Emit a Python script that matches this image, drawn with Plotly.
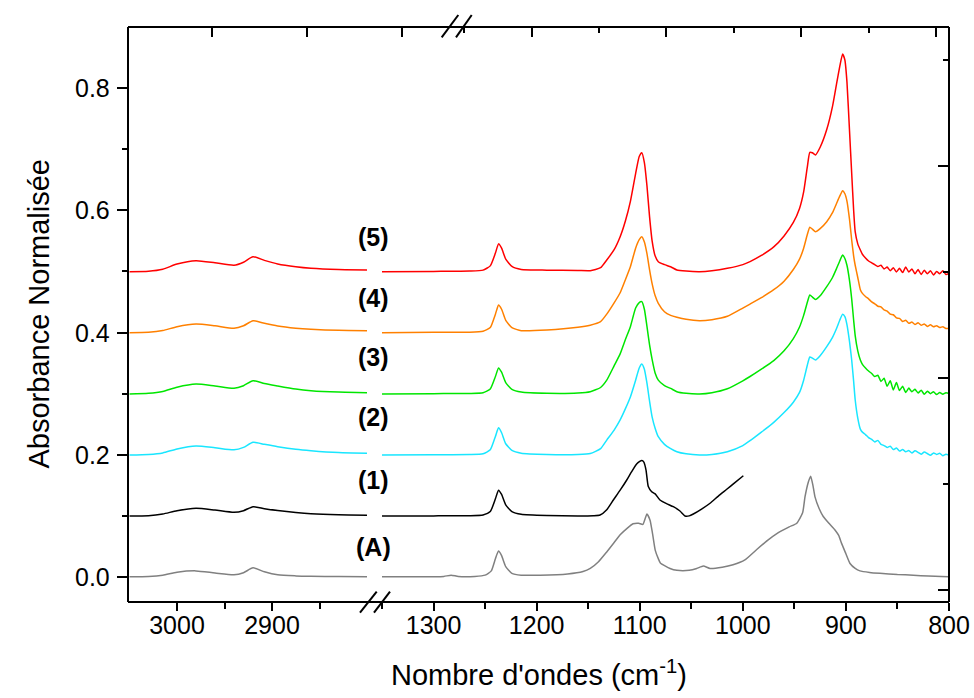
import plotly.graph_objects as go

# ---------------- data ----------------
series_names = ["(A)", "(1)", "(2)", "(3)", "(4)", "(5)"]
series_colors = ["#808080", "#000000", "#19e6ff", "#00e600", "#ff8000", "#ff0000"]

# high wavenumber window (C-H region)
left_wn = [3050, 3030, 3015, 3000, 2980, 2960, 2940, 2930, 2920, 2908, 2894, 2875, 2859, 2830, 2800]
left_A = [0.0005, 0.001, 0.003, 0.0078, 0.0100, 0.0065, 0.0035, 0.0070, 0.0150, 0.0085, 0.0035, 0.0018, 0.0012, 0.0008, 0.0005]
left_1 = [0.0998, 0.1002, 0.1030, 0.1085, 0.1125, 0.1095, 0.1058, 0.1085, 0.1150, 0.1118, 0.1088, 0.1055, 0.1035, 0.1018, 0.1012]
left_2 = [0.1996, 0.2005, 0.2030, 0.2095, 0.2144, 0.2115, 0.2080, 0.2120, 0.2204, 0.2170, 0.2132, 0.2090, 0.2066, 0.2035, 0.2024]
left_3 = [0.2994, 0.3005, 0.3035, 0.3105, 0.3157, 0.3125, 0.3088, 0.3130, 0.3212, 0.3165, 0.3125, 0.3075, 0.3048, 0.3025, 0.3015]
left_4 = [0.3997, 0.4003, 0.4032, 0.4095, 0.4139, 0.4110, 0.4070, 0.4110, 0.4193, 0.4150, 0.4106, 0.4070, 0.4052, 0.4035, 0.4030]
left_5 = [0.4995, 0.5002, 0.5035, 0.5120, 0.5175, 0.5140, 0.5100, 0.5150, 0.5240, 0.5180, 0.5121, 0.5075, 0.5050, 0.5030, 0.5023]

# low wavenumber window, spectrum (A)
right_wn_A = [1350, 1300, 1290, 1283, 1276, 1260, 1250, 1244, 1240, 1237, 1234, 1230, 1224, 1215, 1196.7,
              1170, 1155, 1148, 1140, 1132, 1125, 1119, 1112, 1106.5, 1101, 1097, 1093, 1090, 1087.5, 1085,
              1082, 1080, 1070.6, 1064, 1052, 1044.7, 1038.3, 1031.8, 1020, 1009.5, 998, 986.5, 976, 967, 955,
              947.7, 942, 939.7, 936.5, 934.2, 932, 930, 926, 922, 916, 910.6, 907, 904.2, 900, 896,
              891, 886.4, 877, 867, 850, 834.6, 820, 800]
right_A = [0.0003, 0.0005, 0.0010, 0.0030, 0.0010, 0.0010, 0.0030, 0.0100, 0.0300, 0.0425, 0.0350, 0.0170, 0.0060, 0.0030, 0.0030,
           0.0050, 0.0090, 0.0140, 0.0250, 0.0410, 0.0560, 0.0690, 0.0800, 0.0870, 0.0880, 0.0860, 0.1030, 0.0930, 0.0700, 0.0440,
           0.0300, 0.0230, 0.0140, 0.0110, 0.0110, 0.0140, 0.0180, 0.0140, 0.0160, 0.0200, 0.0280, 0.0450, 0.0600, 0.0710, 0.0820,
           0.0880, 0.1050, 0.1310, 0.1550, 0.1650, 0.1500, 0.1310, 0.1120, 0.0990, 0.0870, 0.0770, 0.0680, 0.0550, 0.0380, 0.0220,
           0.0140, 0.0100, 0.0075, 0.0060, 0.0040, 0.0030, 0.0015, 0.0005]

# spectrum (1)
right_wn_1 = [1350, 1300, 1265, 1252, 1245, 1240, 1237, 1234, 1230, 1224, 1215, 1190, 1160, 1145, 1138.5,
              1132, 1125.6, 1119, 1112.6, 1108, 1103, 1100, 1098, 1096, 1093.9, 1091.7, 1088.4, 1085, 1080.4, 1074,
              1067.4, 1061, 1056, 1052, 1048, 1040, 1031.8, 1024, 1015.6, 1008, 999.5]
right_1 = [0.0998, 0.1000, 0.1003, 0.1015, 0.1070, 0.1280, 0.1420, 0.1350, 0.1180, 0.1070, 0.1025, 0.1005, 0.1000, 0.1003, 0.1014,
           0.1100, 0.1260, 0.1420, 0.1587, 0.1720, 0.1850, 0.1890, 0.1905, 0.1880, 0.1750, 0.1480, 0.1396, 0.1360, 0.1260, 0.1200,
           0.1150, 0.1080, 0.0998, 0.1000, 0.1030, 0.1110, 0.1206, 0.1320, 0.1435, 0.1540, 0.1657]

# spectra (2)-(5)
right_wn = [1350, 1300, 1265, 1252, 1245, 1240, 1237, 1234, 1230, 1224,
            1215, 1190, 1160, 1148, 1138, 1132, 1125, 1119, 1114, 1109,
            1104, 1100.5, 1098, 1095.5, 1093, 1090.5, 1088, 1085, 1082, 1076,
            1070, 1064, 1055, 1042, 1030, 1015, 1000, 993, 982, 970,
            960, 951, 945, 941, 937.5, 935, 932.5, 929.5, 925, 918.6,
            913, 909, 906, 903.2, 901, 899, 896.5, 894.4, 892.5, 891,
            888.5, 886,
            884, 881, 878, 875, 872, 869, 866, 863, 860, 857,
            854, 851, 848, 845, 842, 839, 836, 833, 830, 827,
            824, 821, 818, 815, 812, 809, 806, 803, 800]
right_2 = [0.1996, 0.2000, 0.2003, 0.2015, 0.2080, 0.2300, 0.2440, 0.2360, 0.2180, 0.2070,
           0.2025, 0.2005, 0.2005, 0.2020, 0.2100, 0.2240, 0.2400, 0.2570, 0.2750, 0.2950,
           0.3220, 0.3420, 0.3485, 0.3400, 0.3170, 0.2880, 0.2620, 0.2430, 0.2295, 0.2170,
           0.2100, 0.2050, 0.2015, 0.1996, 0.2005, 0.2050, 0.2150, 0.2230, 0.2370, 0.2530,
           0.2690, 0.2860, 0.3020, 0.3220, 0.3460, 0.3600, 0.3580, 0.3550, 0.3620, 0.3768,
           0.3920, 0.4069, 0.4200, 0.4298, 0.4260, 0.4130, 0.3850, 0.3550, 0.3200, 0.2900,
           0.2600, 0.2420,
           0.2370, 0.2330, 0.2280, 0.2250, 0.2210, 0.2235, 0.2170, 0.2150, 0.2120, 0.2140,
           0.2085, 0.2110, 0.2060, 0.2085, 0.2050, 0.2070, 0.2030, 0.2065, 0.2040, 0.2010,
           0.2045, 0.2020, 0.1990, 0.2030, 0.2005, 0.2025, 0.1985, 0.2010, 0.1996]
right_3 = [0.2995, 0.3000, 0.3003, 0.3015, 0.3075, 0.3280, 0.3420, 0.3350, 0.3180, 0.3070,
           0.3025, 0.3005, 0.3010, 0.3032, 0.3100, 0.3220, 0.3450, 0.3650, 0.3880, 0.4100,
           0.4400, 0.4490, 0.4504, 0.4380, 0.4100, 0.3800, 0.3560, 0.3333, 0.3220, 0.3130,
           0.3085, 0.3032, 0.3005, 0.2994, 0.3015, 0.3080, 0.3210, 0.3280, 0.3400, 0.3540,
           0.3700, 0.3900, 0.4090, 0.4280, 0.4490, 0.4613, 0.4580, 0.4540, 0.4600, 0.4750,
           0.4900, 0.5050, 0.5170, 0.5268, 0.5210, 0.5100, 0.4850, 0.4550, 0.4200, 0.3950,
           0.3700, 0.3550,
           0.3480, 0.3420, 0.3370, 0.3330, 0.3280, 0.3300, 0.3200, 0.3250, 0.3120, 0.3210,
           0.3060, 0.3180, 0.3050, 0.3120, 0.3020, 0.3090, 0.3030, 0.3070, 0.3010, 0.3055,
           0.2990, 0.3040, 0.3000, 0.3030, 0.2985, 0.3020, 0.2990, 0.3015, 0.3005]
right_4 = [0.3997, 0.4005, 0.4005, 0.4020, 0.4080, 0.4300, 0.4450, 0.4380, 0.4200, 0.4080,
           0.4030, 0.4040, 0.4085, 0.4120, 0.4177, 0.4300, 0.4480, 0.4650, 0.4860, 0.5080,
           0.5380, 0.5520, 0.5567, 0.5480, 0.5290, 0.5030, 0.4800, 0.4600, 0.4478, 0.4340,
           0.4280, 0.4249, 0.4215, 0.4193, 0.4210, 0.4265, 0.4400, 0.4465, 0.4570, 0.4700,
           0.4840, 0.5030, 0.5200, 0.5380, 0.5600, 0.5721, 0.5690, 0.5650, 0.5700, 0.5813,
           0.5960, 0.6114, 0.6230, 0.6320, 0.6270, 0.6150, 0.5850, 0.5513, 0.5250, 0.5100,
           0.4900, 0.4700,
           0.4640, 0.4590, 0.4550, 0.4500, 0.4470, 0.4430, 0.4420, 0.4370, 0.4350, 0.4300,
           0.4290, 0.4240, 0.4230, 0.4180, 0.4200, 0.4150, 0.4170, 0.4130, 0.4160, 0.4120,
           0.4140, 0.4100, 0.4125, 0.4095, 0.4110, 0.4080, 0.4095, 0.4065, 0.4069]
right_5 = [0.4995, 0.5000, 0.5005, 0.5020, 0.5090, 0.5300, 0.5450, 0.5380, 0.5200, 0.5080,
           0.5030, 0.5020, 0.5015, 0.5012, 0.5060, 0.5186, 0.5350, 0.5567, 0.5820, 0.6150,
           0.6600, 0.6880, 0.6942, 0.6780, 0.6400, 0.5900, 0.5500, 0.5250, 0.5158, 0.5110,
           0.5075, 0.5023, 0.5005, 0.4995, 0.5010, 0.5050, 0.5110, 0.5160, 0.5260, 0.5400,
           0.5580, 0.5800, 0.6030, 0.6300, 0.6700, 0.6948, 0.6940, 0.6905, 0.7030, 0.7320,
           0.7700, 0.8077, 0.8350, 0.8556, 0.8458, 0.8100, 0.7300, 0.6605, 0.6000, 0.5650,
           0.5450, 0.5350,
           0.5280, 0.5220, 0.5170, 0.5140, 0.5110, 0.5080, 0.5100, 0.5040, 0.5070, 0.5010,
           0.5060, 0.4990, 0.5050, 0.4980, 0.5070, 0.4990, 0.5040, 0.4960, 0.5030, 0.4950,
           0.5020, 0.4960, 0.5010, 0.4940, 0.5000, 0.4960, 0.5010, 0.4950, 0.4968]

label_y = [0.049, 0.1587, 0.2618, 0.36, 0.4564, 0.556]

bottom_ticks_left = [3000, 2900]
bottom_minor_left = [2950, 2850]
bottom_ticks_right = [1300, 1200, 1100, 1000, 900, 800]
bottom_minor_right = [1350, 1250, 1150, 1050, 950, 850]
y_ticks = [0.0, 0.2, 0.4, 0.6, 0.8]
y_ticktext = ["0.0", "0.2", "0.4", "0.6", "0.8"]
y_minor = [0.1, 0.3, 0.5, 0.7]

# ---------------- figure ----------------
FONT = "Liberation Sans, Arial, sans-serif"
fig = go.Figure()

left_sets = [left_A, left_1, left_2, left_3, left_4, left_5]
right_sets = [(right_wn_A, right_A), (right_wn_1, right_1), (right_wn, right_2),
              (right_wn, right_3), (right_wn, right_4), (right_wn, right_5)]

for name, col, ly, (rx, ry) in zip(series_names, series_colors, left_sets, right_sets):
    fig.add_trace(go.Scatter(x=left_wn, y=ly, mode="lines", xaxis="x", yaxis="y",
                             line=dict(color=col, width=1.5, shape="spline", smoothing=0.6),
                             showlegend=False, name=name))
    fig.add_trace(go.Scatter(x=rx, y=ry, mode="lines", xaxis="x2", yaxis="y",
                             line=dict(color=col, width=1.5, shape="spline", smoothing=0.5),
                             showlegend=False, name=name))

# empty traces to register the decorative top / right axes
fig.add_trace(go.Scatter(x=[], y=[], xaxis="x3", yaxis="y", showlegend=False))
fig.add_trace(go.Scatter(x=[], y=[], xaxis="x4", yaxis="y", showlegend=False))
fig.add_trace(go.Scatter(x=[], y=[], xaxis="x2", yaxis="y2", showlegend=False))

tickfont = dict(family=FONT, size=25, color="black")

fig.update_layout(
    width=974, height=698,
    margin=dict(l=128, r=25, t=27, b=96, autoexpand=False),
    paper_bgcolor="white", plot_bgcolor="rgba(0,0,0,0)",
    xaxis=dict(domain=[0, 0.2911], range=[3051.6, 2800], anchor="y", automargin=False,
               showgrid=False, zeroline=False, showline=False,
               tickmode="array", tickvals=bottom_ticks_left,
               ticks="outside", ticklen=8, tickwidth=1.5, tickcolor="black",
               ticklabelstandoff=-7,
               minor=dict(tickmode="array", tickvals=bottom_minor_left, ticks="outside",
                          ticklen=6, tickwidth=1.5, tickcolor="black", showgrid=False),
               tickfont=tickfont),
    xaxis2=dict(domain=[0.3094, 1], range=[1350, 800], anchor="y", automargin=False,
                showgrid=False, zeroline=False, showline=False,
                tickmode="array", tickvals=bottom_ticks_right,
                ticks="outside", ticklen=8, tickwidth=1.5, tickcolor="black",
                ticklabelstandoff=-7,
                minor=dict(tickmode="array", tickvals=bottom_minor_right, ticks="outside",
                           ticklen=6, tickwidth=1.5, tickcolor="black", showgrid=False),
                tickfont=tickfont),
    xaxis3=dict(overlaying="x", side="top", anchor="y", range=[128, 367], automargin=False,
                showgrid=False, zeroline=False, showline=False, showticklabels=False,
                tickmode="array", tickvals=[211.7, 307.3],
                ticks="inside", ticklen=10, tickwidth=1.5, tickcolor="black"),
    xaxis4=dict(overlaying="x2", side="top", anchor="y", range=[382, 949], automargin=False,
                showgrid=False, zeroline=False, showline=False, showticklabels=False,
                tickmode="array", tickvals=[402.3, 531.5, 666, 801, 936.5],
                ticks="inside", ticklen=10, tickwidth=1.5, tickcolor="black",
                minor=dict(tickmode="array", tickvals=[464, 599, 733.5, 869], ticks="inside",
                           ticklen=6, tickwidth=1.5, tickcolor="black", showgrid=False)),
    yaxis=dict(domain=[0, 1], range=[-0.0409, 0.8998], anchor="x", automargin=False,
               showgrid=False, zeroline=False, showline=False, showticklabels=False,
               tickmode="array", tickvals=y_ticks,
               ticks="outside", ticklen=10, tickwidth=1.5, tickcolor="black",
               minor=dict(tickmode="array", tickvals=y_minor, ticks="outside",
                          ticklen=5, tickwidth=1.5, tickcolor="black", showgrid=False)),
    yaxis2=dict(overlaying="y", side="right", anchor="x2", range=[602, 27], automargin=False,
                showgrid=False, zeroline=False, showline=False, showticklabels=False,
                tickmode="array", tickvals=[166, 378, 590],
                ticks="inside", ticklen=11, tickwidth=1.5, tickcolor="black",
                minor=dict(tickmode="array", tickvals=[60, 272, 484], ticks="inside",
                           ticklen=6, tickwidth=1.5, tickcolor="black", showgrid=False)),
)

# frame lines
line_style = dict(color="black", width=2)
fig.add_shape(type="line", xref="paper", yref="paper", x0=0, x1=1, y0=0, y1=0, line=line_style)
fig.add_shape(type="line", xref="paper", yref="paper", x0=0, x1=1, y0=1, y1=1, line=line_style)
fig.add_shape(type="line", xref="paper", yref="paper", x0=0, x1=0, y0=0, y1=1, line=line_style)
fig.add_shape(type="line", xref="paper", yref="paper", x0=1, x1=1, y0=0, y1=1, line=line_style)

# axis-break marks (//), positions given in page pixels
def px2paper_x(px):
    return (px - 128) / 821.0

def px2paper_y(py):
    return (602 - py) / 575.0

for (xa, ya, xb, yb) in [(360, 612.7, 376.7, 591.7), (374, 612.7, 390, 591.7),
                         (441.7, 37.3, 458.3, 15), (456, 37.3, 471.7, 15)]:
    fig.add_shape(type="line", xref="paper", yref="paper",
                  x0=px2paper_x(xa), y0=px2paper_y(ya), x1=px2paper_x(xb), y1=px2paper_y(yb),
                  line=dict(color="black", width=2))

# y tick labels (placed next to the ticks of the y axis)
for tv, tt in zip(y_ticks, y_ticktext):
    fig.add_annotation(x=px2paper_x(112), xref="paper", y=tv, yref="y", text=tt,
                       showarrow=False, font=tickfont, xanchor="right", yanchor="middle")

# curve labels
for name, yv in zip(series_names, label_y):
    fig.add_annotation(x=px2paper_x(373), xref="paper", y=yv, yref="y", text="<b>%s</b>" % name,
                       showarrow=False, font=dict(family=FONT, size=25, color="black"),
                       xanchor="center", yanchor="middle")

# axis titles
fig.add_annotation(x=0.5, xref="paper", y=px2paper_y(673), yref="paper",
                   text="Nombre d'ondes (cm<sup>-1</sup>)", showarrow=False,
                   font=dict(family=FONT, size=29, color="black"), xanchor="center", yanchor="middle")
fig.add_annotation(x=px2paper_x(38), xref="paper", y=0.5, yref="paper",
                   text="Absorbance Normalisée", textangle=-90, showarrow=False,
                   font=dict(family=FONT, size=29, color="black"), xanchor="center", yanchor="middle")

fig.write_html("out.html", config={"displayModeBar": False},
               post_script="document.body.style.margin='0px'; document.body.style.overflow='hidden';")
